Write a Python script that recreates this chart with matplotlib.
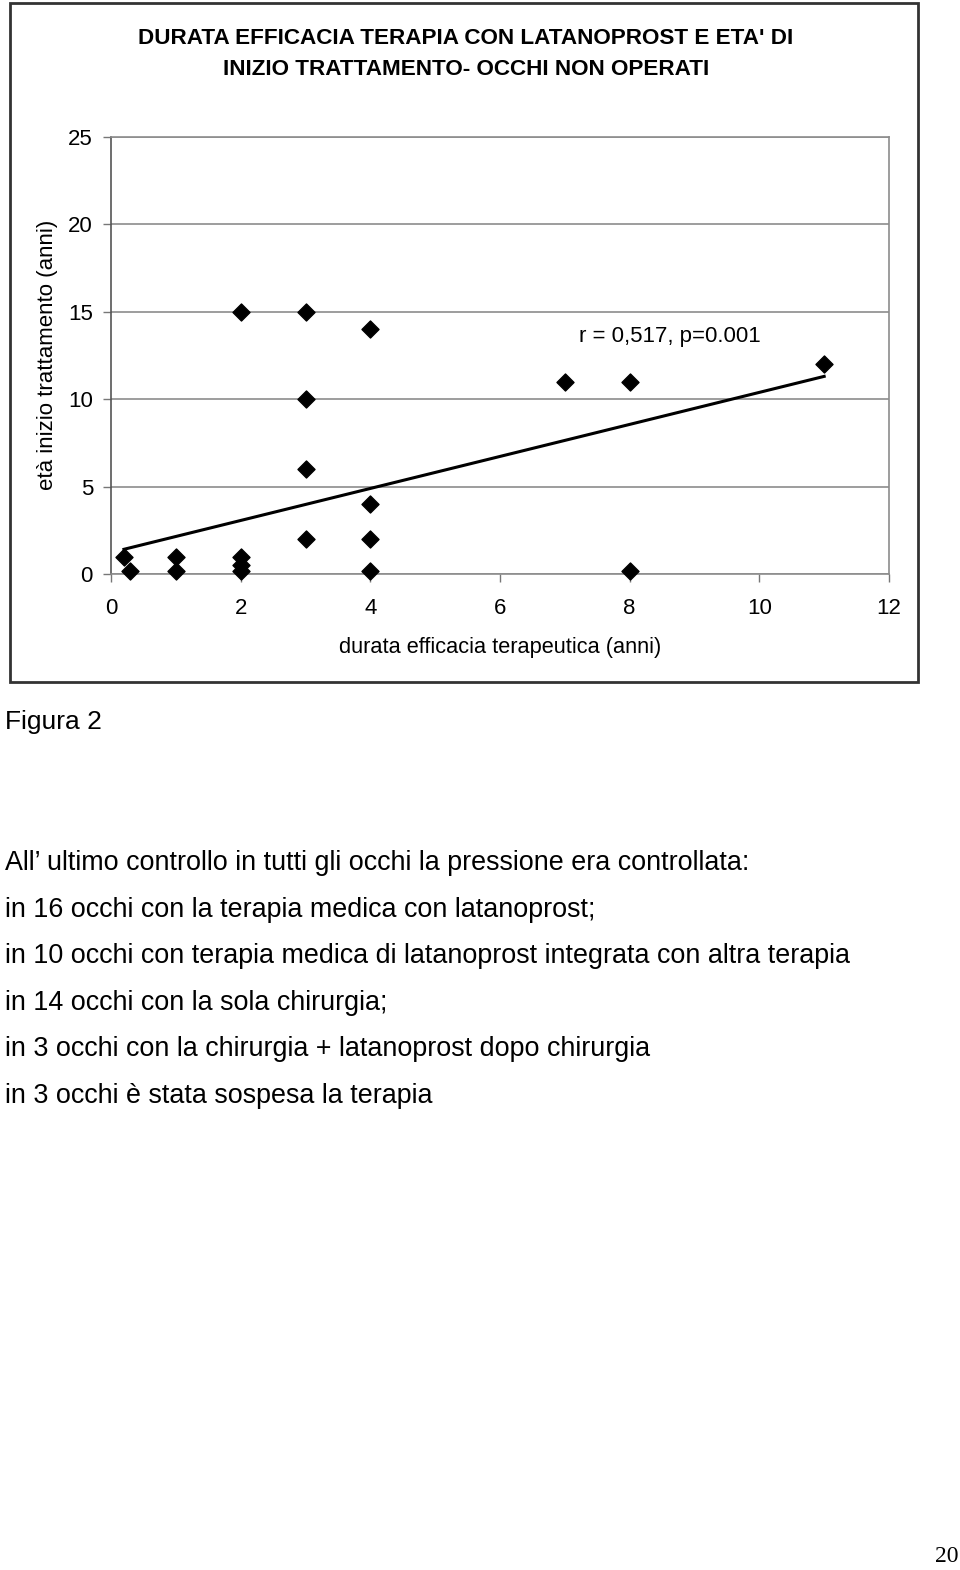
import matplotlib.pyplot as plt
import matplotlib.patches as patches
import numpy as np

plt.rcParams['font.family'] = ['Liberation Sans', 'DejaVu Sans']

# data
durata = [0.2, 0.3, 1, 1, 2, 2, 2, 2, 3, 3, 3, 3, 4, 4, 4, 4, 7, 8, 8, 11]
eta = [1, 0.2, 1, 0.2, 15, 1, 0.5, 0.2, 15, 10, 6, 2, 14, 4, 2, 0.2, 11, 11, 0.2, 12]
trend_slope = 0.916
trend_intercept = 1.23
trend_range = [0.2, 11]
x_ticks = [0, 2, 4, 6, 8, 10, 12]
y_ticks = [0, 5, 10, 15, 20, 25]

title = "DURATA EFFICACIA TERAPIA CON LATANOPROST E ETA' DI\nINIZIO TRATTAMENTO- OCCHI NON OPERATI"
note = "r = 0,517, p=0.001"
body = [
    "All\u2019 ultimo controllo in tutti gli occhi la pressione era controllata:",
    "in 16 occhi con la terapia medica con latanoprost;",
    "in 10 occhi con terapia medica di latanoprost integrata con altra terapia",
    "in 14 occhi con la sola chirurgia;",
    "in 3 occhi con la chirurgia + latanoprost dopo chirurgia",
    "in 3 occhi \u00e8 stata sospesa la terapia",
]

W, H = 960, 1570
fig = plt.figure(figsize=(W / 100, H / 100), dpi=100)

def fx(px):
    return px / W

def fy(py):
    return 1 - py / H

# outer frame of the chart
frame = patches.Rectangle((fx(10), fy(682)), fx(918) - fx(10), fy(3) - fy(682),
                          transform=fig.transFigure, fill=False, lw=2, ec='#333333')
fig.patches.append(frame)

ax = fig.add_axes([fx(111), fy(574), fx(889) - fx(111), fy(137) - fy(574)])
ax.set_xlim(0, 12)
ax.set_ylim(0, 25)
ax.set_xticks(x_ticks)
ax.set_yticks(y_ticks)
ax.yaxis.grid(True, color='#8c8c8c', lw=1.2)
ax.set_axisbelow(True)
for s in ['top', 'right', 'bottom']:
    ax.spines[s].set_color('#8c8c8c')
    ax.spines[s].set_linewidth(1.2)
ax.spines['left'].set_color('#555555')
ax.spines['left'].set_linewidth(1.2)
ax.tick_params(axis='both', direction='out', length=6, width=1, color='#777777',
               labelsize=16)
ax.tick_params(axis='x', pad=11)
ax.tick_params(axis='y', pad=7)

ax.scatter(durata, eta, marker='D', s=75, color='black', zorder=3, clip_on=False)
tx = np.array(trend_range)
ax.plot(tx, trend_intercept + trend_slope * tx, color='black', lw=2.2, zorder=2)
ax.text(8.62, 13.56, note, fontsize=16, ha='center', va='center')

ax.set_xlabel("durata efficacia terapeutica (anni)", fontsize=15.7)
ax.xaxis.set_label_coords((500 - 111) / 778, -(637 - 574) / 437)
ax.set_ylabel("età inizio trattamento (anni)", fontsize=16)
ax.yaxis.set_label_coords((58 - 111) / 778, (574 - 355) / 437)

fig.text(fx(466), fy(54), title, fontsize=16.2, fontweight='bold', ha='center',
         va='center', linespacing=1.65)

fig.text(fx(5), fy(722), "Figura 2", fontsize=19, ha='left', va='center')
for i, line in enumerate(body):
    fig.text(fx(5), fy(863 + i * 46.6), line, fontsize=19.4, ha='left', va='center')

fig.text(fx(958), fy(1557), "20", fontsize=17, ha='right', va='center',
         family=['Liberation Serif', 'DejaVu Serif'])

fig.savefig('out.png', dpi=100)
